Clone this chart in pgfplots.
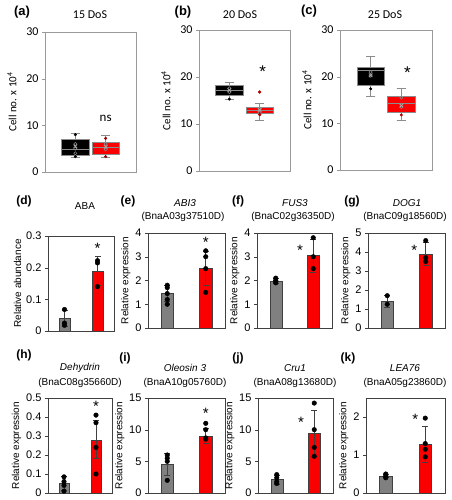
\documentclass[border=0pt]{standalone}
\usepackage{pgfplots}
\pgfplotsset{compat=1.18}
\usepgfplotslibrary{statistics}
\usepackage{fontspec}
\setmainfont{Liberation Sans}
\newfontfamily\cali{Carlito}
\definecolor{bred}{RGB}{250,0,0}
\definecolor{bgray}{RGB}{128,128,128}
\definecolor{edge}{RGB}{64,64,64}
\tikzset{astk/.style={font=\fontsize{15}{15}\selectfont}}
\pgfplotsset{
 boxax/.style={scale only axis, anchor=south west, xmin=0, xmax=3, ymin=0, ymax=30, ytick={0,10,20,30}, xtick=\empty,
   axis line style={black!40}, ytick style={black!40}, tick align=outside, ytick pos=left, major tick length=3pt,
   yticklabel style={font=\cali\fontsize{12}{12}\selectfont},
   ylabel={Cell no. x 10\textsuperscript{4}}, ylabel style={font=\cali\fontsize{11}{11}\selectfont, yshift=3pt},
   /pgf/number format/assume math mode=true, clip=false},
 barax/.style={scale only axis, anchor=south west, xmin=0.5, xmax=2.5, ymin=0, xtick=\empty,
   axis line style={black!75}, ytick style={black!75}, tick align=outside, ytick pos=left, major tick length=3pt,
   yticklabel style={font=\fontsize{11}{11}\selectfont},
   ylabel={Relative expression}, ylabel style={font=\fontsize{10}{10}\selectfont, yshift=-2pt},
   /pgf/number format/assume math mode=true, clip=false},
 gbar/.style={ybar, bar shift=0pt, bar width=0.32, fill=bgray, draw=edge},
 rbar/.style={ybar, bar shift=0pt, bar width=0.32, fill=bred, draw=edge},
 eb/.style={draw=none, mark=none, error bars/.cd, y dir=both, y explicit,
   error bar style={edge, line width=0.8pt}, error mark options={rotate=90, edge, mark size=3pt, line width=0.8pt}},
 dots/.style={only marks, mark=*, mark size=2.3pt, black},
 bx/.style={draw=black!45, line width=0.6pt, boxplot/draw direction=y, boxplot/whisker extend=0.3, boxplot/box extend=0.9},
 inpts/.style={only marks, mark=o, mark size=1.6pt, black!45, line width=0.5pt},
 meanx/.style={only marks, mark=x, mark size=2.5pt, black!35, line width=0.8pt},
}
\begin{document}
\begin{tikzpicture}
\path[use as bounding box] (0pt,0pt) rectangle (451pt,500pt);
% ---------- (a)
\begin{axis}[boxax, at={(45pt,328pt)}, width=91pt, height=140pt]
\addplot[bx, fill=black, boxplot prepared={draw position=1, lower whisker=3.2, lower quartile=3.6, median=4.9, upper quartile=6.9, upper whisker=8.2}] coordinates {};
\addplot[bx, fill=bred, boxplot prepared={draw position=2, lower whisker=3.1, lower quartile=3.7, median=5.2, upper quartile=6.4, upper whisker=7.8}] coordinates {};
\addplot[inpts] coordinates {(1,6.0) (1,5.0) (1,4.0) (2,6.0) (2,4.8)};
\addplot[only marks, mark=*, mark size=1.3pt, black] coordinates {(1,8.0) (1,3.3)};
\addplot[only marks, mark=*, mark size=1.3pt, red!60!black] coordinates {(2,7.2) (2,3.3)};
\addplot[meanx] coordinates {(1,5.5) (2,5.4)};
\node[font=\cali\fontsize{13}{13}\selectfont] at (axis cs:2,11.4) {ns};
\end{axis}
% ---------- (b)
\begin{axis}[boxax, at={(199pt,329pt)}, width=91pt, height=141pt]
\addplot[bx, fill=black, boxplot prepared={draw position=1, lower whisker=15.3, lower quartile=16.0, median=17.1, upper quartile=18.2, upper whisker=18.8}] coordinates {};
\addplot[bx, fill=bred, boxplot prepared={draw position=2, lower whisker=10.8, lower quartile=12.3, median=12.9, upper quartile=13.55, upper whisker=14.4}] coordinates {};
\addplot[inpts] coordinates {(1,17.6) (1,16.8) (2,13.2) (2,12.4)};
\addplot[only marks, mark=*, mark size=1.3pt, black] coordinates {(1,15.3)};
\addplot[only marks, mark=*, mark size=1.5pt, red!70!black] coordinates {(2,16.8) (2,12.0)};
\addplot[meanx] coordinates {(1,17.2) (2,13.0)};
\node[font=\fontsize{17}{17}\selectfont] at (axis cs:2.1,21.2) {*};
\end{axis}
% ---------- (c)
\begin{axis}[boxax, at={(340pt,330pt)}, width=92pt, height=140pt]
\addplot[bx, fill=black, boxplot prepared={draw position=1, lower whisker=15.7, lower quartile=18.1, median=21.3, upper quartile=21.9, upper whisker=24.3}] coordinates {};
\addplot[bx, fill=bred, boxplot prepared={draw position=2, lower whisker=10.7, lower quartile=12.4, median=14.25, upper quartile=15.8, upper whisker=17.5}] coordinates {};
\addplot[inpts] coordinates {(1,21.0) (1,20.2) (2,15.5) (2,13.5)};
\addplot[only marks, mark=*, mark size=1.3pt, black] coordinates {(1,17.4)};
\addplot[only marks, mark=*, mark size=1.3pt, red!70!black] coordinates {(2,11.8)};
\addplot[meanx] coordinates {(1,20.3) (2,13.8)};
\node[font=\fontsize{17}{17}\selectfont] at (axis cs:2.2,20.8) {*};
\end{axis}
% ---------- (d)
\begin{axis}[barax, at={(48pt,169pt)}, width=66pt, height=95pt, ymax=0.3, ytick={0,0.1,0.2,0.3}, ylabel={Relative abundance}]
\addplot[gbar] coordinates {(1,0.04)};
\addplot[rbar] coordinates {(2,0.19)};
\addplot[eb] coordinates {(1,0.04) +- (0,0.025) (2,0.19) +- (0,0.047)};
\addplot[dots] coordinates {(1,0.068) (1,0.025) (1,0.018) (2,0.222) (2,0.215) (2,0.14)};
\node[astk] at (axis cs:2,0.262) {*};
\end{axis}
% ---------- (e)
\begin{axis}[barax, at={(148pt,172pt)}, width=77pt, height=95pt, ymax=4, ytick={0,1,2,3,4}]
\addplot[gbar] coordinates {(1,1.45)};
\addplot[rbar] coordinates {(2,2.52)};
\addplot[eb] coordinates {(1,1.45) +- (0,0.35) (2,2.52) +- (0,0.72)};
\addplot[dots] coordinates {(1,1.8) (1,1.7) (1,1.45) (1,1.2) (1,1.0) (2,3.25) (2,3.0) (2,2.5) (2,1.5)};
\node[astk] at (axis cs:2,3.6) {*};
\end{axis}
% ---------- (f)
\begin{axis}[barax, at={(257pt,172pt)}, width=75pt, height=95pt, ymax=4, ytick={0,1,2,3,4}]
\addplot[gbar] coordinates {(1,1.97)};
\addplot[rbar] coordinates {(2,3.05)};
\addplot[eb] coordinates {(1,1.97) +- (0,0.1) (2,3.05) +- (0,0.7)};
\addplot[dots] coordinates {(1,2.1) (1,2.0) (1,1.95) (1,1.9) (2,3.8) (2,3.0) (2,2.5)};
\node[astk] at (axis cs:1.65,3.25) {*};
\end{axis}
% ---------- (g)
\begin{axis}[barax, at={(368pt,172pt)}, width=77pt, height=95pt, ymax=5, ytick={0,1,2,3,4,5}]
\addplot[gbar] coordinates {(1,1.4)};
\addplot[rbar] coordinates {(2,3.9)};
\addplot[eb] coordinates {(1,1.4) +- (0,0.3) (2,3.9) +- (0,0.6)};
\addplot[dots] coordinates {(1,1.7) (1,1.25) (2,4.6) (2,3.7) (2,3.5)};
\node[astk] at (axis cs:1.7,4.1) {*};
\end{axis}
% ---------- (h)
\begin{axis}[barax, at={(48pt,7pt)}, width=64pt, height=95pt, ymax=0.5, ytick={0,0.1,0.2,0.3,0.4,0.5}]
\addplot[gbar] coordinates {(1,0.05)};
\addplot[rbar] coordinates {(2,0.28)};
\addplot[eb] coordinates {(1,0.05) +- (0,0.035) (2,0.28) +- (0,0.1)};
\addplot[dots] coordinates {(1,0.085) (1,0.06) (1,0.04) (1,0.01) (2,0.41) (2,0.37) (2,0.24) (2,0.1)};
\node[astk] at (axis cs:2,0.455) {*};
\end{axis}
% ---------- (i)
\begin{axis}[barax, at={(148pt,7pt)}, width=77pt, height=95pt, ymax=15, ytick={0,5,10,15}]
\addplot[gbar] coordinates {(1,4.5)};
\addplot[rbar] coordinates {(2,9.0)};
\addplot[eb] coordinates {(1,4.5) +- (0,1.8) (2,9.0) +- (0,1.2)};
\addplot[dots] coordinates {(1,6.0) (1,5.5) (1,5.0) (1,2.0) (2,11.0) (2,10.0) (2,8.7) (2,8.5)};
\node[astk] at (axis cs:2,12.6) {*};
\end{axis}
% ---------- (j)
\begin{axis}[barax, at={(258pt,7pt)}, width=75pt, height=95pt, ymax=15, ytick={0,5,10,15}]
\addplot[gbar] coordinates {(1,2.1)};
\addplot[rbar] coordinates {(2,9.4)};
\addplot[eb] coordinates {(1,2.1) +- (0,0.7) (2,9.4) +- (0,3.7)};
\addplot[dots] coordinates {(1,2.9) (1,2.4) (1,1.8) (1,1.5) (2,14.2) (2,10.0) (2,7.2) (2,5.8)};
\node[astk] at (axis cs:1.65,11.2) {*};
\end{axis}
% ---------- (k)
\begin{axis}[barax, at={(366pt,7pt)}, width=79pt, height=95pt, ymax=2.5, ytick={0,1,2}]
\addplot[gbar] coordinates {(1,0.45)};
\addplot[rbar] coordinates {(2,1.28)};
\addplot[eb] coordinates {(1,0.45) +- (0,0.05) (2,1.28) +- (0,0.47)};
\addplot[dots] coordinates {(1,0.5) (1,0.45) (1,0.4) (2,1.97) (2,1.3) (2,1.15) (2,0.95)};
\node[astk] at (axis cs:1.75,1.95) {*};
\end{axis}
% ---------- titles
\node[font=\bfseries\fontsize{13}{13}\selectfont] at (22pt,488pt) {(a)};
\node[font=\cali\fontsize{12}{12}\selectfont] at (90pt,485pt) {15 DoS};
\node[font=\bfseries\fontsize{13}{13}\selectfont] at (183pt,488pt) {(b)};
\node[font=\cali\fontsize{12}{12}\selectfont] at (240pt,485pt) {20 DoS};
\node[font=\bfseries\fontsize{13}{13}\selectfont] at (309pt,489pt) {(c)};
\node[font=\cali\fontsize{12}{12}\selectfont] at (385pt,485pt) {25 DoS};
\node[font=\bfseries\fontsize{12}{12}\selectfont] at (24pt,299pt) {(d)};
\node[font=\fontsize{10}{10}\selectfont] at (85pt,294pt) {ABA};
\node[font=\bfseries\fontsize{12}{12}\selectfont] at (128pt,299pt) {(e)};
\node[font=\itshape\fontsize{10}{10}\selectfont] at (185pt,297pt) {ABI3};
\node[font=\fontsize{10}{10}\selectfont] at (183pt,283pt) {(BnaA03g37510D)};
\node[font=\bfseries\fontsize{12}{12}\selectfont] at (238pt,299pt) {(f)};
\node[font=\itshape\fontsize{10}{10}\selectfont] at (295pt,297pt) {FUS3};
\node[font=\fontsize{10}{10}\selectfont] at (293pt,283pt) {(BnaC02g36350D)};
\node[font=\bfseries\fontsize{12}{12}\selectfont] at (352pt,299pt) {(g)};
\node[font=\itshape\fontsize{10}{10}\selectfont] at (407pt,297pt) {DOG1};
\node[font=\fontsize{10}{10}\selectfont] at (405pt,283pt) {(BnaC09g18560D)};
\node[font=\bfseries\fontsize{12}{12}\selectfont] at (24pt,145pt) {(h)};
\node[font=\itshape\fontsize{10}{10}\selectfont] at (80pt,132pt) {Dehydrin};
\node[font=\fontsize{10}{10}\selectfont] at (80pt,117pt) {(BnaC08g35660D)};
\node[font=\bfseries\fontsize{12}{12}\selectfont] at (125pt,142pt) {(i)};
\node[font=\itshape\fontsize{10}{10}\selectfont] at (185pt,132pt) {Oleosin 3};
\node[font=\fontsize{10}{10}\selectfont] at (185pt,117pt) {(BnaA10g05760D)};
\node[font=\bfseries\fontsize{12}{12}\selectfont] at (238pt,142pt) {(j)};
\node[font=\itshape\fontsize{10}{10}\selectfont] at (295pt,132pt) {Cru1};
\node[font=\fontsize{10}{10}\selectfont] at (295pt,117pt) {(BnaA08g13680D)};
\node[font=\bfseries\fontsize{12}{12}\selectfont] at (348pt,142pt) {(k)};
\node[font=\itshape\fontsize{10}{10}\selectfont] at (405pt,132pt) {LEA76};
\node[font=\fontsize{10}{10}\selectfont] at (405pt,117pt) {(BnaA05g23860D)};
\end{tikzpicture}
\end{document}
